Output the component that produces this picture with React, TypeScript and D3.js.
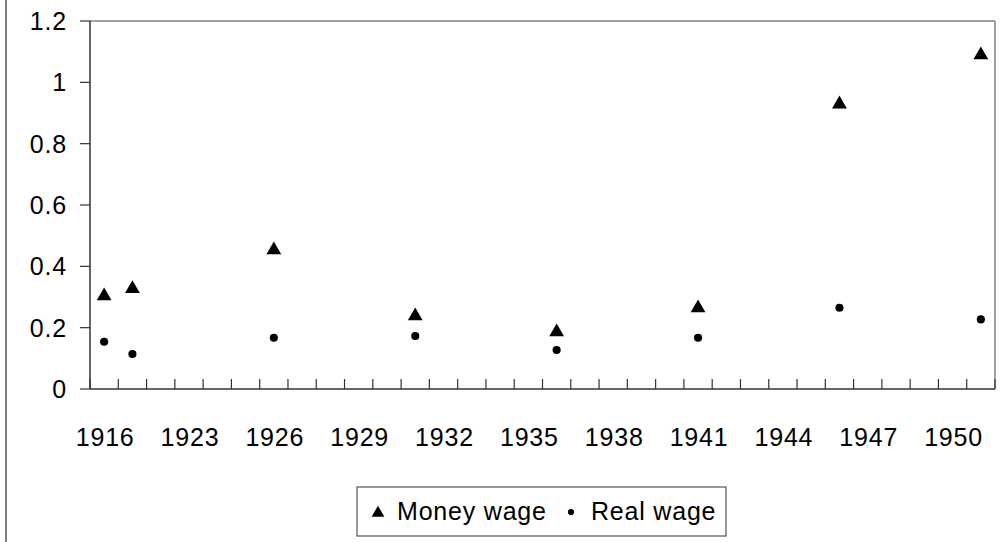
import React from 'react'
import * as d3 from 'd3'

// category axis: every year is a slot, only every third slot is labelled
const categories = ['1916', '1918', '1920']
for (let y = 1923; y <= 1951; y++) categories.push(String(y))

const tickLabels = ['1916', '1923', '1926', '1929', '1932', '1935', '1938', '1941', '1944', '1947', '1950']
const yTicks = [0, 0.2, 0.4, 0.6, 0.8, 1, 1.2]

const pointYears = ['1916', '1918', '1926', '1931', '1936', '1941', '1946', '1951']
const moneyWage = [0.303, 0.327, 0.453, 0.238, 0.186, 0.264, 0.929, 1.089]
const realWage = [0.154, 0.114, 0.167, 0.173, 0.127, 0.167, 0.265, 0.227]

const W = 1003
const H = 542
const font = 'Arial, "Liberation Sans", sans-serif'

const App = () => {
	const left = 90,
		right = 995,
		top = 21,
		bottom = 389

	const x = d3.scaleBand().domain(categories).range([left, right])
	const y = d3.scaleLinear().domain([0, 1.2]).range([bottom, top])

	const tri = d3.symbol().type(d3.symbolTriangle).size(95)()
	const dot = d3.symbol().type(d3.symbolCircle).size(52)()
	const legendTri = d3.symbol().type(d3.symbolTriangle).size(70)()
	const legendDot = d3.symbol().type(d3.symbolCircle).size(30)()

	const cx = (c: string) => (x(c) as number) + x.bandwidth() / 2

	// tick positions on the band boundaries
	const xTicks = categories.map(c => x(c) as number).concat([right])

	const txt = { fontSize: 25, letterSpacing: '0.8px', fill: '#000' }

	return (
		<svg
			width={W}
			height={H}
			style={{ position: 'absolute', left: 0, top: 0, background: '#fff' }}
			fontFamily={font}
		>
			{/* outer chart border (left edge visible) */}
			<line x1={6} x2={6} y1={0} y2={H} stroke="#808080" strokeWidth={2} />

			{/* plot area frame */}
			<line x1={left} x2={right} y1={top} y2={top} stroke="#808080" strokeWidth={1.5} />
			<line x1={right} x2={right} y1={top} y2={bottom} stroke="#808080" strokeWidth={1.5} />

			{/* y axis */}
			<line x1={left} x2={left} y1={top} y2={bottom} stroke="#333" strokeWidth={1.5} />
			{yTicks.map(t => (
				<g key={t}>
					<line x1={left - 10} x2={left} y1={y(t)} y2={y(t)} stroke="#333" strokeWidth={1.2} />
					<text x={67} y={y(t)} dy="0.36em" textAnchor="end" {...txt}>
						{t}
					</text>
				</g>
			))}

			{/* x axis */}
			<line x1={left} x2={right} y1={bottom} y2={bottom} stroke="#333" strokeWidth={1.5} />
			{xTicks.map((t, i) => (
				<line key={i} x1={t} x2={t} y1={bottom - 10} y2={bottom} stroke="#333" strokeWidth={1.2} />
			))}
			{tickLabels.map(l => (
				<text key={l} x={cx(l) + 1} y={446} textAnchor="middle" {...txt}>
					{l}
				</text>
			))}

			{/* series */}
			{pointYears.map((c, i) => (
				<path key={'m' + c} d={tri} transform={`translate(${cx(c)},${y(moneyWage[i])})`} fill="#000" />
			))}
			{pointYears.map((c, i) => (
				<path key={'r' + c} d={dot} transform={`translate(${cx(c)},${y(realWage[i])})`} fill="#000" />
			))}

			{/* legend */}
			<rect x={357} y={487} width={369} height={49} fill="#fff" stroke="#555" strokeWidth={1.2} />
			<path d={legendTri} transform="translate(378,513)" fill="#000" />
			<text x={397} y={520} {...txt}>
				Money wage
			</text>
			<path d={legendDot} transform="translate(571,512)" fill="#000" />
			<text x={591} y={520} {...txt}>
				Real wage
			</text>
		</svg>
	)
}

export default App
